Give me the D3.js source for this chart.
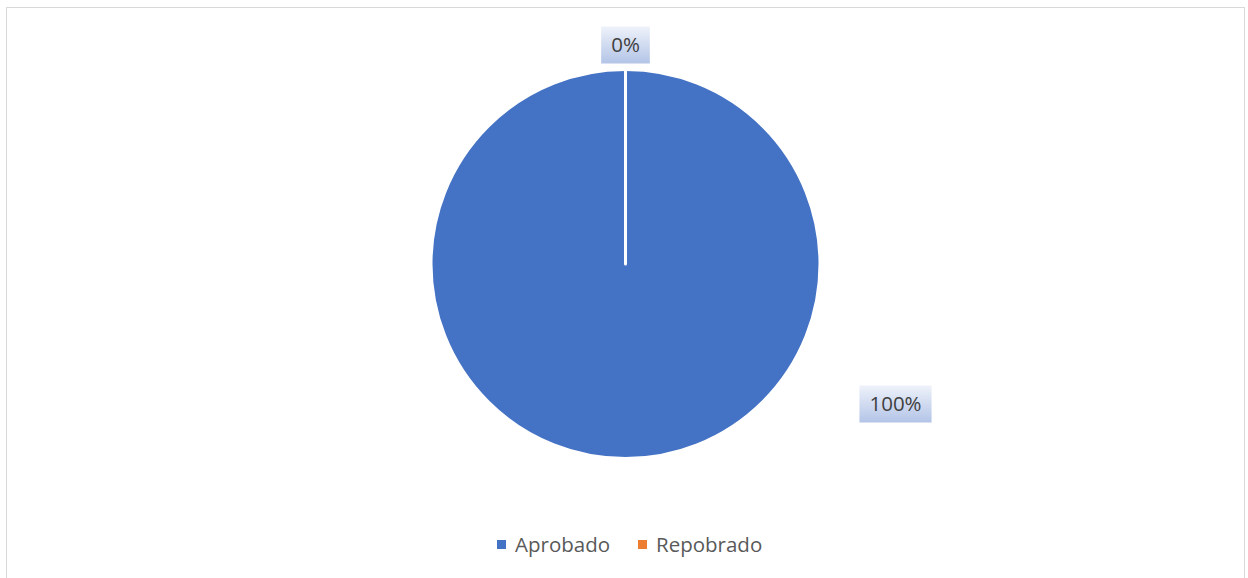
<!DOCTYPE html>
<html><head><meta charset="utf-8">
<script src="https://cdn.jsdelivr.net/npm/d3@7"></script>
<style>body{margin:0;background:#fff}svg{display:block}</style>
</head><body>
<svg id="c" width="1248" height="578"></svg>
<script>
const categories = ["Aprobado", "Repobrado"];
const values = [100, 0];
const labels = ["100%", "0%"];
const colors = ["#4472c4", "#ed7d31"];

const svg = d3.select("#c");
const defs = svg.append("defs");
const g0 = defs.append("linearGradient").attr("id","lbl").attr("x1",0).attr("y1",0).attr("x2",0).attr("y2",1);
g0.append("stop").attr("offset","0%").attr("stop-color","#eef2fa");
g0.append("stop").attr("offset","100%").attr("stop-color","#b3c4e7");

svg.append("rect").attr("x",6.5).attr("y",7.5).attr("width",1238).attr("height",600)
  .attr("fill","#fff").attr("stroke","#d9d9d9").attr("stroke-width",1);

const cx = 625.5, cy = 264, r = 194.5;
const pie = d3.pie().sort(null).value(d => d)(values);
const arc = d3.arc().innerRadius(0).outerRadius(r);
const g = svg.append("g").attr("transform",`translate(${cx},${cy})`);
g.selectAll("path").data(pie).join("path")
  .attr("d", arc).attr("fill", (d,i) => colors[i])
  .attr("stroke","#fff").attr("stroke-width",3).attr("stroke-linejoin","round");

// labels
const labelPos = [[270, 140], [0, -219]];
const fontF = "'Open Sans', 'Noto Sans', sans-serif";
labels.forEach((t,i) => {
  const [lx, ly] = labelPos[i];
  const lg = g.append("g").attr("transform",`translate(${lx},${ly})`);
  const txt = lg.append("text").text(t).attr("text-anchor","middle").attr("dy","0.35em")
    .attr("font-family",fontF).attr("font-size",20.5).attr("fill","#404040");
  const w = txt.node().getComputedTextLength() + 20;
  lg.insert("rect","text").attr("x",-w/2).attr("y",-18.5).attr("width",w).attr("height",37).attr("fill","url(#lbl)");
});

// legend
const lgd = svg.append("g");
const items = [{x:497, i:0}, {x:638, i:1}];
items.forEach(({x,i}) => {
  lgd.append("rect").attr("x",x).attr("y",540).attr("width",9).attr("height",9).attr("fill",colors[i]);
  lgd.append("text").attr("x",x+18).attr("y",545).attr("dy","0.35em").text(categories[i])
    .attr("font-family",fontF).attr("font-size",20.5).attr("fill","#595959");
});
</script>
</body></html>
